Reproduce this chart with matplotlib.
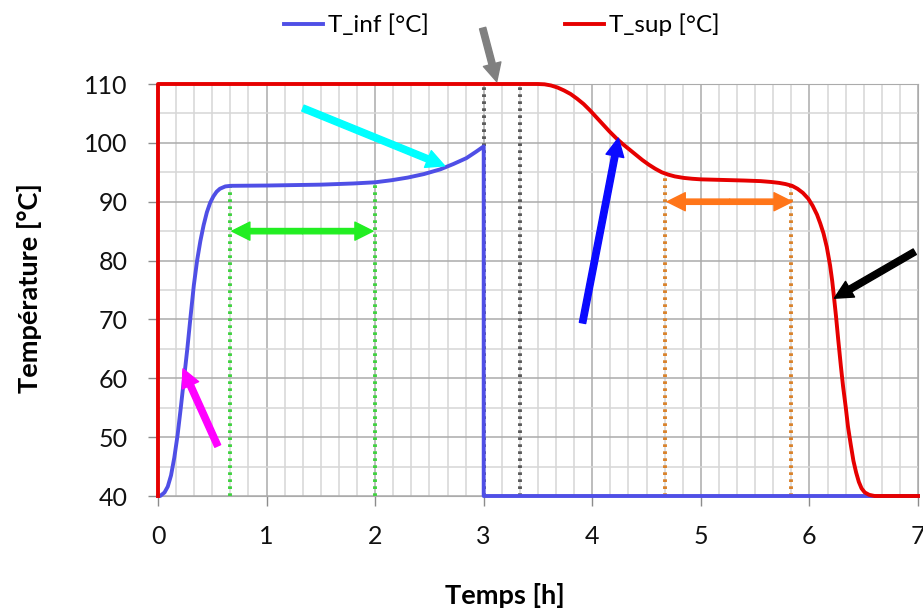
import matplotlib.pyplot as plt
from matplotlib.patches import FancyArrowPatch
from matplotlib.ticker import MultipleLocator

plt.rcParams["font.family"] = ["Lato", "DejaVu Sans"]

# readings of the two temperature curves (time in hours, temperature in °C)
time_inf = [0.0, 0.02, 0.06, 0.09, 0.12, 0.15, 0.18, 0.21, 0.24, 0.27, 0.30,
            0.33, 0.36, 0.39, 0.42, 0.45, 0.48, 0.51, 0.54, 0.57, 0.62, 0.67,
            1.0, 1.5, 1.8, 2.0, 2.15, 2.3, 2.45, 2.6, 2.72, 2.84, 2.93, 3.0,
            3.0, 7.0]
temp_inf = [40, 40, 40.6, 41.6, 43.5, 46.5, 50.3, 55.0, 60.0, 65.0, 70.5,
            75.8, 80.0, 83.3, 86.0, 88.2, 89.8, 90.9, 91.7, 92.2, 92.6, 92.7,
            92.75, 92.9, 93.1, 93.3, 93.65, 94.1, 94.7, 95.5, 96.4, 97.4, 98.5,
            99.4, 40, 40]

time_sup = [0, 0, 3.45, 3.5, 3.56, 3.62, 3.68, 3.74, 3.80, 3.86, 3.92, 3.98,
            4.04, 4.10, 4.16, 4.22, 4.28, 4.34, 4.40, 4.46, 4.52, 4.58, 4.64,
            4.70, 4.76, 4.84, 4.92, 5.0, 5.2, 5.4, 5.55, 5.65, 5.72, 5.78,
            5.84, 5.89, 5.94, 5.99, 6.03, 6.07, 6.10, 6.13, 6.16, 6.19, 6.21,
            6.225, 6.245, 6.264, 6.29, 6.31, 6.335, 6.355, 6.38, 6.405, 6.43,
            6.455, 6.48, 6.51, 6.55, 6.6, 7.0]
temp_sup = [40, 110, 110, 110, 109.95, 109.75, 109.4, 108.9, 108.3, 107.5,
            106.6, 105.5, 104.3, 103.1, 101.9, 100.8, 99.8, 98.9, 98.0, 97.1,
            96.3, 95.6, 95.0, 94.6, 94.3, 94.05, 93.9, 93.8, 93.7, 93.6, 93.5,
            93.35, 93.2, 93.0, 92.7, 92.2, 91.5, 90.5, 89.3, 87.8, 86.3, 84.6,
            82.3, 79.2, 76.5, 74.0, 70.5, 66.8, 62.0, 58.6, 55.0, 51.8, 48.8,
            46.0, 44.0, 42.4, 41.3, 40.6, 40.2, 40.0, 40.0]

# vertical dotted markers: (time, top temperature, colour)
markers = [
    (0.667, 93.4, "#3fd13f"),
    (2.0, 93.3, "#3fd13f"),
    (3.0, 110, "#5a5a5a"),
    (3.333, 110, "#5a5a5a"),
    (4.667, 95.0, "#d9822b"),
    (5.833, 93.0, "#d9822b"),
]

# single arrows: (tail, tip, colour)
arrows = [
    ((0.55, 48.5), (0.23, 61.6), "#ff00ff"),
    ((1.335, 105.9), (2.64, 96.1), "#00ffff"),
    ((2.99, 119.5), (3.12, 110.4), "#808080"),
    ((3.91, 69.4), (4.24, 100.8), "#0a0aff"),
    ((6.97, 81.5), (6.23, 73.6), "#000000"),
]

# double arrows: (start, end, level, colour)
double_arrows = [
    (0.68, 1.98, 85.0, "#22ee22"),
    (4.69, 5.84, 90.0, "#ff7519"),
]

fig = plt.figure(figsize=(9.23, 6.13), dpi=100)
ax = fig.add_axes([158 / 923, 1 - 496 / 613, 760 / 923, 412 / 613])

for x, top, color in markers:
    ax.plot([x, x], [40, top], color=color, lw=2.8,
            linestyle=(0, (0.7, 1.1)), zorder=2)

line_inf, = ax.plot(time_inf, temp_inf, color="#4f4fe6", lw=2.8,
                    label="T_inf [°C]", clip_on=False, zorder=3,
                    solid_joinstyle="round")
line_sup, = ax.plot(time_sup, temp_sup, color="#e60000", lw=2.8,
                    label="T_sup [°C]", clip_on=False, zorder=3,
                    solid_joinstyle="round")

style = "simple,head_length=13,head_width=13,tail_width=4.6"
for tail, tip, color in arrows:
    ax.add_patch(FancyArrowPatch(tail, tip, arrowstyle=style,
                                 mutation_scale=1, color=color,
                                 shrinkA=0, shrinkB=0,
                                 clip_on=False, zorder=5))

style2 = "simple,head_length=13,head_width=13,tail_width=3.8"
for start, end, level, color in double_arrows:
    middle = (start + end) / 2
    for edge in (start, end):
        ax.add_patch(FancyArrowPatch((middle, level), (edge, level),
                                     arrowstyle=style2, mutation_scale=1,
                                     shrinkA=0, shrinkB=0,
                                     color=color, zorder=5))

ax.set_xlim(0, 7)
ax.set_ylim(40, 110)
ax.xaxis.set_major_locator(MultipleLocator(1))
ax.xaxis.set_minor_locator(MultipleLocator(1 / 6))
ax.yaxis.set_major_locator(MultipleLocator(10))
ax.yaxis.set_minor_locator(MultipleLocator(5))
ax.grid(which="major", color="#ababab", lw=1.1)
ax.grid(which="minor", color="#d6d6d6", lw=1.1)
ax.set_axisbelow(True)
ax.tick_params(which="major", direction="out", length=7, width=1,
               color="#8c8c8c", labelsize=18, labelcolor="#111111")
ax.tick_params(axis="x", pad=14)
ax.tick_params(axis="y", pad=15)
ax.tick_params(which="minor", length=0)
for spine in ax.spines.values():
    spine.set_color("#ababab")

fig.text(30 / 923, 1 - 288 / 613, "Température [°C]", rotation=90,
         ha="center", va="center", fontsize=19.5, fontweight="bold")
fig.text(505 / 923, 1 - 596 / 613, "Temps [h]", ha="center", va="center",
         fontsize=19.5, fontweight="bold")

fig.legend(handles=[line_inf, line_sup], loc="center",
           bbox_to_anchor=(502 / 923, 1 - 25 / 613), ncols=2, frameon=False,
           fontsize=17.5, handlelength=1.6, handletextpad=0.2,
           columnspacing=5.6)

fig.savefig("out.png", dpi=100)
